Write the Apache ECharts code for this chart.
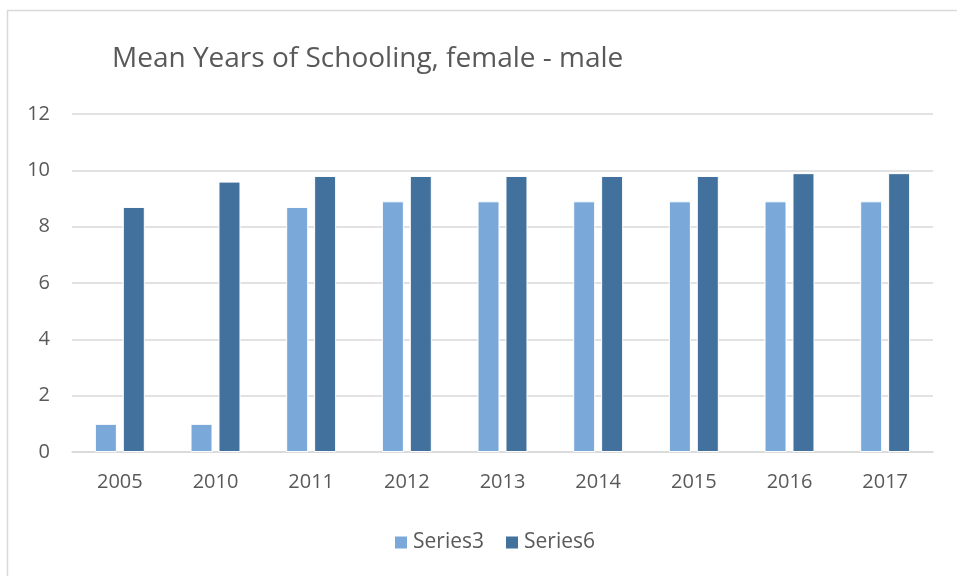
<!DOCTYPE html>
<html>
<head>
<meta charset="utf-8">
<script src="https://cdn.jsdelivr.net/npm/echarts@6/dist/echarts.min.js"></script>
<style>
  html, body { margin: 0; padding: 0; background: #fff; }
  #chart { width: 957px; height: 576px; }
</style>
</head>
<body>
<div id="chart"></div>
<script>
const years = ['2005', '2010', '2011', '2012', '2013', '2014', '2015', '2016', '2017']
const series3 = [1, 1, 8.7, 8.9, 8.9, 8.9, 8.9, 8.9, 8.9]
const series6 = [8.7, 9.6, 9.8, 9.8, 9.8, 9.8, 9.8, 9.9, 9.9]

const font = '"Open Sans", "Liberation Sans", sans-serif'
const textColor = '#595959'

const chart = echarts.init(document.getElementById('chart'))

chart.setOption({
  animation: false,
  textStyle: { fontFamily: font },
  graphic: [
    {
      type: 'rect',
      shape: { x: 7.5, y: 10.5, width: 980, height: 600 },
      style: { fill: 'none', stroke: '#d9d9d9', lineWidth: 1.5 },
      silent: true
    }
  ],
  title: {
    text: 'Mean Years of Schooling, female - male',
    left: 107,
    top: 40,
    textStyle: { color: textColor, fontSize: 28, fontWeight: 'normal', fontFamily: font }
  },
  legend: {
    bottom: 18,
    left: 388,
    itemWidth: 14,
    itemHeight: 14,
    itemGap: 20,
    icon: 'rect',
    textStyle: { color: textColor, fontSize: 21, fontFamily: font }
  },
  grid: {
    left: 72,
    right: 24,
    top: 114,
    bottom: 124
  },
  xAxis: {
    type: 'category',
    data: years,
    axisLine: { lineStyle: { color: '#d9d9d9', width: 1.5 } },
    axisTick: { show: false },
    axisLabel: { color: textColor, fontSize: 20, margin: 20 }
  },
  yAxis: {
    type: 'value',
    min: 0,
    max: 12,
    interval: 2,
    axisLine: { show: false },
    axisTick: { show: false },
    axisLabel: { color: textColor, fontSize: 20, margin: 22 },
    splitLine: { lineStyle: { color: '#d9d9d9', width: 1.5 } }
  },
  series: [
    {
      name: 'Series3',
      type: 'bar',
      data: series3,
      barWidth: '23%',
      barGap: '27%',
      itemStyle: { color: '#7aa8d9', borderColor: '#fff', borderWidth: 1 }
    },
    {
      name: 'Series6',
      type: 'bar',
      data: series6,
      barWidth: '23%',
      barGap: '27%',
      itemStyle: { color: '#41719c', borderColor: '#fff', borderWidth: 1 }
    }
  ]
})
</script>
</body>
</html>
